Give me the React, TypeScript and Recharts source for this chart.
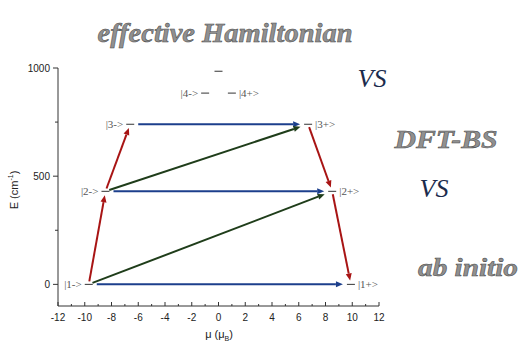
import React from 'react';
import { ComposedChart, XAxis, YAxis, Scatter, ReferenceLine } from 'recharts';

// Energy levels: magnetic moment (μB) and energy (cm^-1)
const levelNames = ['|1->', '|2->', '|3->', '|4->', '', '|4+>', '|3+>', '|2+>', '|1+>'];
const levelMu = [-9.7, -8.45, -6.6, -1.0, 0.0, 1.0, 6.7, 8.5, 9.9];
const levelE = [0, 430, 740, 884, 985, 884, 740, 430, 0];
const labelSide = ['left', 'left', 'left', 'left', 'none', 'right', 'right', 'right', 'right'];

// Transitions: [from index, to index, kind]
const arrowFrom = [0, 1, 2, 0, 1, 6, 7, 0, 1];
const arrowTo = [8, 7, 6, 1, 2, 7, 8, 7, 6];
const arrowKind = ['blue', 'blue', 'blue', 'red', 'red', 'red', 'red', 'green', 'green'];

const xTicks = [-12, -11, -10, -9, -8, -7, -6, -5, -4, -3, -2, -1, 0, 1, 2, 3, 4, 5, 6, 7, 8, 9, 10, 11, 12];
const yTicks = [0, 250, 500, 750, 1000];

const levels = levelNames.map((name, i) => ({ name, mu: levelMu[i], E: levelE[i], side: labelSide[i] }));
const arrows = arrowFrom.map((f, i) => ({ from: levels[f], to: levels[arrowTo[i]], kind: arrowKind[i] }));

const kindStyle: Record<string, { color: string; s0: number; s1: number }> = {
  blue: { color: '#1c3f8c', s0: 8, s1: 8 },
  red: { color: '#a81414', s0: 3, s1: 4 },
  green: { color: '#1f3d1a', s0: 4, s1: 8 },
};

const ArrowShape = (kind: string) => (props: any) => {
  const { x1, y1, x2, y2 } = props;
  if (x1 == null || y1 == null) return null;
  const st = kindStyle[kind];
  const dx = x2 - x1;
  const dy = y2 - y1;
  const len = Math.sqrt(dx * dx + dy * dy);
  const ux = dx / len;
  const uy = dy / len;
  const sx = x1 + ux * st.s0;
  const sy = y1 + uy * st.s0;
  const ex = x2 - ux * st.s1;
  const ey = y2 - uy * st.s1;
  const hl = 7;
  const hw = 3;
  const bx = ex - ux * hl;
  const by = ey - uy * hl;
  const px = -uy;
  const py = ux;
  return (
    <g>
      <line x1={sx} y1={sy} x2={bx} y2={by} stroke={st.color} strokeWidth={2} />
      <polygon
        points={`${ex},${ey} ${bx + px * hw},${by + py * hw} ${bx - px * hw},${by - py * hw}`}
        fill={st.color}
      />
    </g>
  );
};

const serif = "'Liberation Serif', 'DejaVu Serif', serif";
const sans = "'Liberation Sans', Arial, sans-serif";

const LevelShape = (props: any) => {
  const { cx, cy, payload } = props;
  if (cx == null) return null;
  return (
    <g>
      <line x1={cx - 4} y1={cy} x2={cx + 4} y2={cy} stroke="#333" strokeWidth={1} />
      {payload.side === 'left' && (
        <text x={cx - 7} y={cy + 3.5} textAnchor="end" style={{ fontFamily: serif }} fontSize={11} fill="#555">
          {payload.name}
        </text>
      )}
      {payload.side === 'right' && (
        <text x={cx + 7} y={cy + 3.5} textAnchor="start" style={{ fontFamily: serif }} fontSize={11} fill="#555">
          {payload.name}
        </text>
      )}
    </g>
  );
};

const XTick = (props: any) => {
  const { x, y, payload } = props;
  const v = payload.value;
  const major = v % 2 === 0;
  return (
    <g>
      <line x1={x} y1={y} x2={x} y2={y - (major ? 4 : 2)} stroke="#333" strokeWidth={1} />
      {major && (
        <text x={x} y={y + 15} textAnchor="middle" style={{ fontFamily: sans }} fontSize={10} fill="#222">
          {v}
        </text>
      )}
    </g>
  );
};

const YTick = (props: any) => {
  const { x, y, payload } = props;
  const v = payload.value;
  const major = v % 500 === 0;
  return (
    <g>
      <line x1={x} y1={y} x2={x - (major ? 5 : 3)} y2={y} stroke="#333" strokeWidth={1} />
      {major && (
        <text x={x - 8} y={y + 3.5} textAnchor="end" style={{ fontFamily: sans }} fontSize={10} fill="#222">
          {v}
        </text>
      )}
    </g>
  );
};

const embossed = {
  fontStyle: 'italic' as const,
  fontWeight: 'bold' as const,
  fill: '#909090',
  stroke: '#454545',
  strokeWidth: 0.5,
};

export default function App() {
  return (
    <div style={{ position: 'absolute', left: 0, top: 0, width: 527, height: 354, background: '#fff' }}>
      <ComposedChart width={527} height={354} margin={{ top: 68, right: 148, bottom: 0, left: 0 }}>
        <XAxis
          type="number"
          dataKey="mu"
          domain={[-12, 12]}
          ticks={xTicks}
          interval={0}
          height={48}
          tickSize={0}
          tickMargin={0}
          tick={<XTick />}
          axisLine={{ stroke: '#333', strokeWidth: 1 }}
          allowDataOverflow
        />
        <YAxis
          type="number"
          dataKey="E"
          domain={[-100, 1000]}
          ticks={yTicks}
          interval={0}
          width={58}
          tickSize={0}
          tickMargin={0}
          tick={<YTick />}
          axisLine={{ stroke: '#333', strokeWidth: 1 }}
          allowDataOverflow
        />
        {arrows.map((a, i) => (
          <ReferenceLine
            key={i}
            segment={[
              { x: a.from.mu, y: a.from.E },
              { x: a.to.mu, y: a.to.E },
            ]}
            ifOverflow="visible"
            shape={ArrowShape(a.kind)}
          />
        ))}
        <Scatter data={levels} dataKey="E" shape={<LevelShape />} isAnimationActive={false} />
      </ComposedChart>
      <svg
        width={527}
        height={354}
        style={{ position: 'absolute', left: 0, top: 0, pointerEvents: 'none' }}
      >
        <text x={15} y={190} transform="rotate(-90 15 190)" textAnchor="middle" dominantBaseline="middle"
          style={{ fontFamily: sans }} fontSize={11} fill="#222">
          E (cm<tspan dy={-4} fontSize={7}>-1</tspan><tspan dy={4}>)</tspan>
        </text>
        <text x={219} y={338} textAnchor="middle" style={{ fontFamily: sans }} fontSize={11} fill="#222">
          μ (μ<tspan dy={3} fontSize={7}>B</tspan><tspan dy={-3}>)</tspan>
        </text>
        <text x={225} y={42} textAnchor="middle" fontSize={28} textLength={255} lengthAdjust="spacingAndGlyphs"
          style={{ fontFamily: serif }} {...embossed}>
          effective Hamiltonian
        </text>
        <text x={372} y={87} textAnchor="middle" style={{ fontFamily: serif }} fontStyle="italic" fontSize={26} fill="#1b2b4d">
          VS
        </text>
        <text x={446} y={148} textAnchor="middle" fontSize={26} textLength={103} lengthAdjust="spacingAndGlyphs"
          style={{ fontFamily: serif }} {...embossed}>
          DFT-BS
        </text>
        <text x={434} y={197} textAnchor="middle" style={{ fontFamily: serif }} fontStyle="italic" fontSize={26} fill="#1b2b4d">
          VS
        </text>
        <text x={468} y={276} textAnchor="middle" fontSize={26} textLength={100} lengthAdjust="spacingAndGlyphs"
          style={{ fontFamily: serif }} {...embossed}>
          ab initio
        </text>
      </svg>
    </div>
  );
}
